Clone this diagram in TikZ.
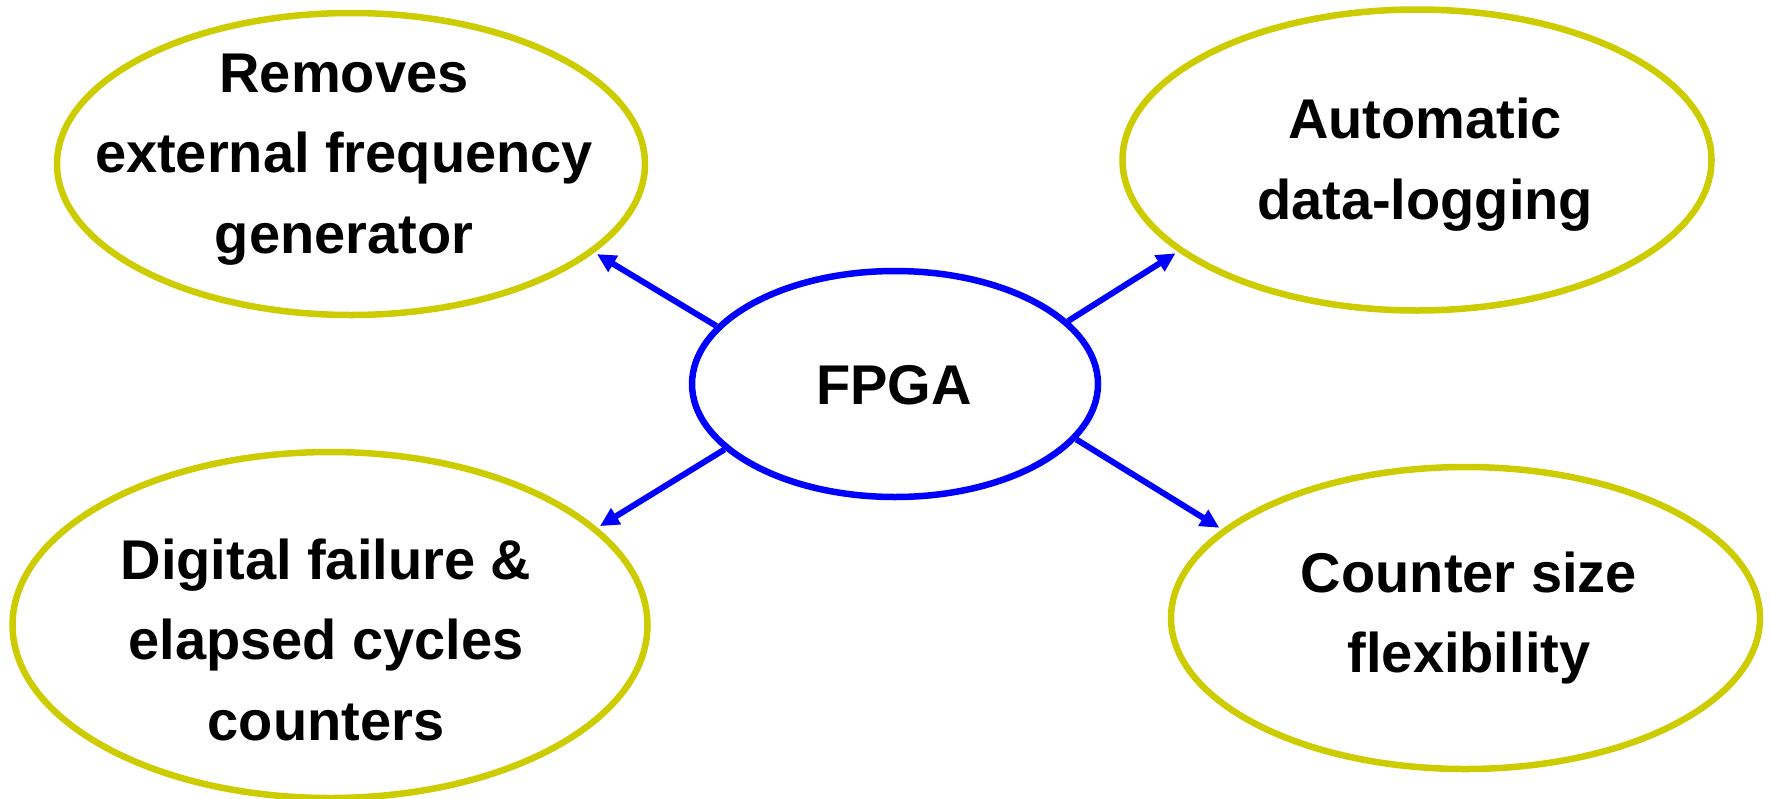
\documentclass[tikz,border=0pt]{standalone}
\usepackage{fontspec}
\setmainfont{Liberation Sans}
\usetikzlibrary{shapes.geometric,arrows.meta}
\definecolor{ylw}{RGB}{204,204,0}
\definecolor{blu}{RGB}{0,0,255}
\begin{document}
\begin{tikzpicture}[x=1pt,y=-1pt,
  oval/.style={ellipse, draw=ylw, line width=6.5pt, inner sep=0pt},
  core/.style={ellipse, draw=blu, line width=6.5pt, inner sep=0pt},
  lbl/.style={font=\fontsize{56}{80.5}\selectfont\bfseries, align=center, anchor=base, inner sep=0pt},
  link/.style={draw=blu, line width=6pt, -{Triangle[length=19pt,width=18pt]}, shorten >=3pt}]
\useasboundingbox (0,0) rectangle (1771,798);
\node[oval, minimum width=588pt, minimum height=302pt] (tl) at (351,164) {};
\node[oval, minimum width=589pt, minimum height=301pt] (tr) at (1417,160) {};
\node[oval, minimum width=635pt, minimum height=346pt] (bl) at (330,625) {};
\node[oval, minimum width=589pt, minimum height=302pt] (br) at (1465.5,618) {};
\node[core, minimum width=406pt, minimum height=226pt] (fpga) at (895,384) {};
\node[lbl] (tltext) at (344,253.3) {Removes\\external frequency\\generator};
\node[lbl] (trtext) at (1425,219.3) {Automatic\\data-logging};
\node[lbl] (bltext) at (326,740) {Digital failure \&\\elapsed cycles\\counters};
\node[lbl] (brtext) at (1469,672.7) {Counter size\\flexibility};
\node[lbl] (fpgatext) at (894,404) {FPGA};
\draw[link] (fpga.162) -- (tl.340);
\draw[link] (fpga.20) -- (tr.201);
\draw[link] (fpga.201) -- (bl.20);
\draw[link] (fpga.343) -- (br.160);
\end{tikzpicture}
\end{document}
